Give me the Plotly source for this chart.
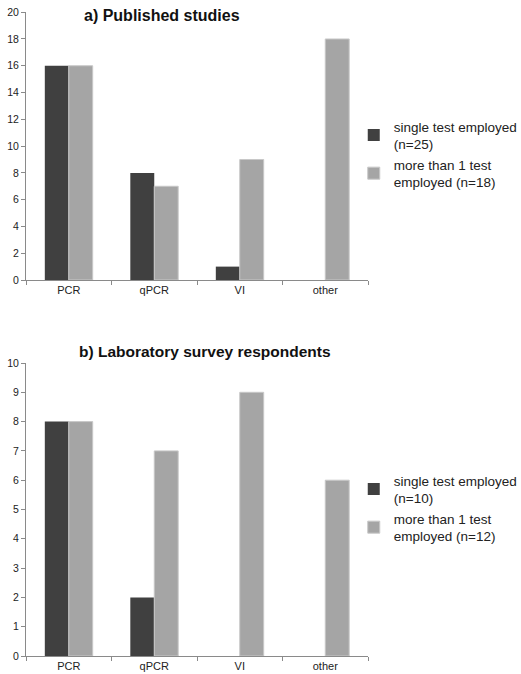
import plotly.graph_objects as go

categories = ["PCR", "qPCR", "VI", "other"]
a_single = [16, 8, 1, 0]
a_multi = [16, 7, 9, 18]
b_single = [8, 2, 0, 0]
b_multi = [8, 7, 9, 6]
a_yticks = [0, 2, 4, 6, 8, 10, 12, 14, 16, 18, 20]
b_yticks = [0, 1, 2, 3, 4, 5, 6, 7, 8, 9, 10]

W, H = 521, 674
L, R = 26.25, 368.25
FONT = "Arial, Liberation Sans, sans-serif"
DARK = "#404040"
LIGHT = "#a5a5a5"
AXC = "#8a8a8a"

def py(px):
    return 1 - px / H

def px_x(px):
    return (px - L) / (R - L)

fig = go.Figure()
fig.add_trace(go.Bar(x=categories, y=a_single, name="single test employed<br>(n=25)",
                     marker=dict(color=DARK, line=dict(width=0)),
                     xaxis="x", yaxis="y", legend="legend"))
fig.add_trace(go.Bar(x=categories, y=a_multi, name="more than 1 test<br>employed (n=18)",
                     marker=dict(color=LIGHT, line=dict(color="#c8c8c8", width=1)),
                     xaxis="x", yaxis="y", legend="legend"))
fig.add_trace(go.Bar(x=categories, y=b_single, name="single test employed<br>(n=10)",
                     marker=dict(color=DARK, line=dict(width=0)),
                     xaxis="x2", yaxis="y2", legend="legend2"))
fig.add_trace(go.Bar(x=categories, y=b_multi, name="more than 1 test<br>employed (n=12)",
                     marker=dict(color=LIGHT, line=dict(color="#c8c8c8", width=1)),
                     xaxis="x2", yaxis="y2", legend="legend2"))

xcommon = dict(showline=True, linecolor=AXC, linewidth=1, ticks="outside",
               tickson="boundaries", ticklen=4, tickcolor=AXC, automargin=False,
               tickfont=dict(family=FONT, size=11, color="#222"),
               showgrid=False, zeroline=False, fixedrange=True)
ycommon = dict(showline=True, linecolor=AXC, linewidth=1, ticks="outside", automargin=False,
               ticklen=4, tickcolor=AXC, tickfont=dict(family=FONT, size=10.5, color="#222"),
               showgrid=False, zeroline=False, fixedrange=True)

legcommon = dict(font=dict(family=FONT, size=13.5, color="#222"), bgcolor="rgba(0,0,0,0)",
                 xanchor="left", yanchor="top", traceorder="normal", itemclick=False)

fig.update_layout(
    width=W, height=H,
    margin=dict(l=L, r=W - R, t=0, b=0, autoexpand=False),
    paper_bgcolor="white", plot_bgcolor="white",
    barmode="group", bargap=0.44, bargroupgap=0,
    xaxis=dict(**xcommon, domain=[0, 1], anchor="y"),
    yaxis=dict(**ycommon, domain=[py(280), py(12.2)], range=[0, 20], tickvals=a_yticks, anchor="x"),
    xaxis2=dict(**xcommon, domain=[0, 1], anchor="y2"),
    yaxis2=dict(**ycommon, domain=[py(656), py(363)], range=[0, 10], tickvals=b_yticks, anchor="x2"),
    legend=dict(**legcommon, x=px_x(354), y=py(111)),
    legend2=dict(**legcommon, x=px_x(354), y=py(465)),
    annotations=[
        dict(text="<b>a) Published studies</b>", x=px_x(162), y=py(15), xref="paper", yref="paper",
             showarrow=False, xanchor="center", yanchor="middle",
             font=dict(family=FONT, size=16, color="#111")),
        dict(text="<b>b) Laboratory survey respondents</b>", x=px_x(205), y=py(351),
             xref="paper", yref="paper", showarrow=False, xanchor="center", yanchor="middle",
             font=dict(family=FONT, size=15.5, color="#111")),
    ],
)

fig.write_html("out.html", config={"displayModeBar": False},
               post_script="document.body.style.margin='0';document.body.style.overflow='hidden';")
